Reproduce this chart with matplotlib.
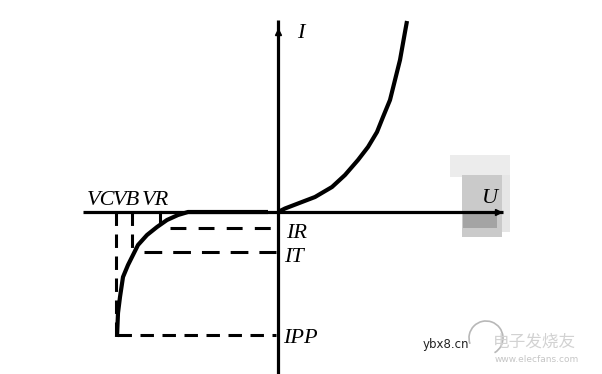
import matplotlib
matplotlib.use("Agg")
import matplotlib.pyplot as plt
from matplotlib.patches import Rectangle, Arc

# ---- data (arbitrary units, origin at axis crossing) ----
fwd_u = [0, 7, 20, 37, 54, 67, 80, 90, 99, 105, 112, 117, 122, 127, 129]
fwd_i = [0, 3.5, 8.5, 15, 25, 37, 52, 65, 80, 95, 112, 132, 152, 180, 191]

rev_u = [-10, -60, -90, -100, -111, -121, -131, -140, -145, -150, -155, -158, -160, -161]
rev_i = [0, 0, 0, -3, -8, -15, -23, -33, -43, -53, -65, -85, -101, -125]

VC, VB, VR = -162, -146, -118
IR, IT, IPP = -16, -40, -123
level_start = {"IR": -108, "IT": -134, "IPP": -160}

x_axis = (-195, 225)
y_axis = (-165, 192)

fig = plt.figure(figsize=(6.02, 3.74), dpi=100)
ax = fig.add_axes([0, 0, 1, 1])
ax.set_xlim(-278, 324)
ax.set_ylim(-162, 212)
ax.axis("off")

# gray smudge behind U
ax.add_patch(Rectangle((172, 35), 60, 22, color="#ececec", lw=0, zorder=0))
ax.add_patch(Rectangle((219, -20), 13, 57, color="#e6e6e6", lw=0, zorder=0))
ax.add_patch(Rectangle((184, -25), 40, 62, color="#cacaca", lw=0, zorder=0))
ax.add_patch(Rectangle((185, -16), 34, 15, color="#a4a4a4", lw=0, zorder=0))

# axes
ax.plot(x_axis, [0, 0], color="black", lw=2.3, solid_capstyle="butt", zorder=3)
ax.plot([0, 0], y_axis, color="black", lw=2.3, solid_capstyle="butt", zorder=3)
ax.plot([x_axis[1] - 5], [0], marker=">", color="black", ms=5, zorder=3)
ax.plot([0], [y_axis[1] - 12], marker="^", color="black", ms=4, zorder=3)

# dashed reference lines
ax.plot([level_start["IR"], -2], [IR, IR], color="black", lw=2.2,
        linestyle=(0, (5.2, 4.0)), zorder=2)
ax.plot([level_start["IT"], -2], [IT, IT], color="black", lw=2.2,
        linestyle=(0, (5.8, 3.6)), zorder=2)
ax.plot([level_start["IPP"], -2], [IPP, IPP], color="black", lw=2.2,
        linestyle=(0, (4.4, 2.8)), zorder=2)
ax.plot([VC, VC], [0, IPP], color="black", lw=2.2,
        linestyle=(0, (4.4, 2.8)), zorder=2)
ax.plot([VB, VB], [0, IT], color="black", lw=2.2,
        linestyle=(0, (4.4, 2.8)), zorder=2)
ax.plot([VR, VR], [0, -10], color="black", lw=2.2, zorder=2)

# characteristic curve
ax.plot(fwd_u, fwd_i, color="black", lw=3.0, solid_joinstyle="round",
        solid_capstyle="butt", zorder=4)
ax.plot(rev_u, rev_i, color="black", lw=3.0, solid_joinstyle="round",
        solid_capstyle="butt", zorder=4)

# labels
tf = dict(family="Liberation Serif", style="italic", color="black",
          va="baseline", ha="left", zorder=5)
ax.text(-191, 7, "VC", fontsize=16, **tf)
ax.text(-165, 7, "VB", fontsize=16, **tf)
ax.text(-136, 7, "VR", fontsize=16, **tf)
ax.text(19, 174, "I", fontsize=16, **tf)
ax.text(8, -26, "IR", fontsize=16, **tf)
ax.text(6, -50, "IT", fontsize=16, **tf)
ax.text(5, -131, "IPP", fontsize=16, **tf)
ax.text(204, 9, "U", fontsize=16, **tf)

# watermark
ax.text(145, -136, "ybx8.cn", fontsize=8.5, family="DejaVu Sans",
        color="#222222", va="baseline", ha="left", zorder=5)
ax.add_patch(Arc((208, -126), 34, 34, theta1=-60, theta2=200,
                 color="#b8b8b8", lw=1.2, zorder=1))
ax.text(215, -135, "电子发烧友", fontsize=12, family=["Noto Sans CJK SC", "DejaVu Sans"],
        color="#d2d2d2", va="baseline", ha="left", style="italic", zorder=1)
ax.text(217, -150, "www.elecfans.com", fontsize=6.5, family="DejaVu Sans",
        color="#c6c6c6", va="baseline", ha="left", zorder=1)

fig.savefig("out.png", dpi=100)
